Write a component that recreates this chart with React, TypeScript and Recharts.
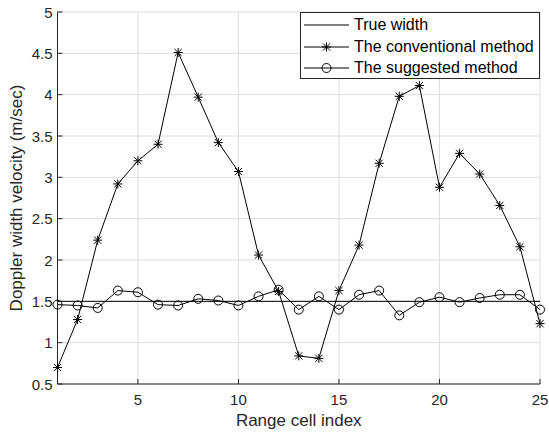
import React from 'react';
import { LineChart, Line, XAxis, YAxis, CartesianGrid } from 'recharts';

const cellIndex = [1,2,3,4,5,6,7,8,9,10,11,12,13,14,15,16,17,18,19,20,21,22,23,24,25];
const trueWidth = [1.5,1.5,1.5,1.5,1.5,1.5,1.5,1.5,1.5,1.5,1.5,1.5,1.5,1.5,1.5,1.5,1.5,1.5,1.5,1.5,1.5,1.5,1.5,1.5,1.5];
const conventional = [0.7,1.28,2.24,2.92,3.2,3.4,4.51,3.97,3.42,3.07,2.06,1.62,0.84,0.81,1.63,2.18,3.17,3.98,4.11,2.88,3.29,3.04,2.66,2.16,1.23];
const suggested = [1.46,1.45,1.42,1.63,1.61,1.46,1.45,1.53,1.51,1.45,1.56,1.64,1.4,1.56,1.4,1.58,1.63,1.33,1.49,1.55,1.49,1.54,1.58,1.58,1.4];
const xTicks = [5,10,15,20,25];
const yTicks = [0.5,1,1.5,2,2.5,3,3.5,4,4.5,5];
const seriesNames = ['True width','The conventional method','The suggested method'];

const data = cellIndex.map((x, i) => ({ x, t: trueWidth[i], c: conventional[i], s: suggested[i] }));

const AX = '#262626';
const FONT = '"Liberation Sans", Arial, sans-serif';

const StarDot = (props: any) => {
  const { cx, cy } = props;
  if (cx == null || cy == null) return null;
  const r = 4.5;
  const d = r * 0.8;
  return (
    <g stroke="#000" strokeWidth={1}>
      <line x1={cx - r} y1={cy} x2={cx + r} y2={cy} />
      <line x1={cx} y1={cy - r} x2={cx} y2={cy + r} />
      <line x1={cx - d} y1={cy - d} x2={cx + d} y2={cy + d} />
      <line x1={cx - d} y1={cy + d} x2={cx + d} y2={cy - d} />
    </g>
  );
};

const CircleDot = (props: any) => {
  const { cx, cy } = props;
  if (cx == null || cy == null) return null;
  return <circle cx={cx} cy={cy} r={4.5} fill="none" stroke="#000" strokeWidth={1} />;
};

const XTick = (props: any) => {
  const { x, y, payload } = props;
  return (
    <g>
      <line x1={x} y1={y} x2={x} y2={y - 5} stroke={AX} />
      <text x={x} y={y + 21} textAnchor="middle" fontSize={15} fill={AX} fontFamily={FONT}>{payload.value}</text>
    </g>
  );
};
const XTopTick = (props: any) => {
  const { x, y } = props;
  return <line x1={x} y1={y} x2={x} y2={y + 5} stroke={AX} />;
};
const YTick = (props: any) => {
  const { x, y, payload } = props;
  return (
    <g>
      <line x1={x} y1={y} x2={x + 5} y2={y} stroke={AX} />
      <text x={x - 5} y={y + 5.5} textAnchor="end" fontSize={15} fill={AX} fontFamily={FONT}>{payload.value}</text>
    </g>
  );
};
const YRightTick = (props: any) => {
  const { x, y } = props;
  return <line x1={x} y1={y} x2={x - 5} y2={y} stroke={AX} />;
};

const LegendBox = () => (
  <div style={{ position: 'absolute', left: 300, top: 12, border: '1px solid #262626', background: '#fff', width: 240, height: 67, boxSizing: 'border-box', fontFamily: FONT, fontSize: 16, color: '#000' }}>
    {seriesNames.map((n, i) => (
      <div key={n} style={{ position: 'absolute', left: 0, top: 2 + i * 21.5, height: 20, display: 'flex', alignItems: 'center' }}>
        <svg width={53} height={20} style={{ display: 'block' }}>
          <line x1={3} y1={10} x2={48} y2={10} stroke="#000" strokeWidth={1} />
          {i === 1 ? <StarDot cx={25.5} cy={10} /> : null}
          {i === 2 ? <CircleDot cx={25.5} cy={10} /> : null}
        </svg>
        <span style={{ whiteSpace: 'nowrap' }}>{n}</span>
      </div>
    ))}
  </div>
);

export default function App() {
  return (
    <div style={{ position: 'absolute', left: 0, top: 0, width: 549, height: 432, background: '#fff' }}>
      <LineChart width={549} height={432} data={data} margin={{ top: 12, right: 9, bottom: 0, left: 0 }}>
        <CartesianGrid stroke="#dcdcdc" strokeWidth={1} horizontalValues={yTicks} verticalValues={xTicks} />
        <XAxis dataKey="x" type="number" domain={[1, 25]} ticks={xTicks} height={48} axisLine={{ stroke: AX }} tickLine={false} tickSize={0} tickMargin={0} tick={<XTick />} interval={0}
          label={{ value: 'Range cell index', position: 'insideBottom', offset: 6, fontSize: 17, fill: AX, fontFamily: FONT }} />
        <XAxis xAxisId="top" orientation="top" dataKey="x" type="number" domain={[1, 25]} ticks={xTicks} height={0} axisLine={{ stroke: AX }} tickLine={false} tickSize={0} tickMargin={0} tick={<XTopTick />} interval={0} />
        <YAxis type="number" domain={[0.5, 5]} ticks={yTicks} width={57.5} axisLine={{ stroke: AX }} tickLine={false} tickSize={0} tickMargin={0} tick={<YTick />} interval={0}
          label={{ value: 'Doppler width velocity (m/sec)', angle: -90, position: 'insideLeft', offset: 16, style: { textAnchor: 'middle', fontSize: 17, fill: AX, fontFamily: FONT } }} />
        <YAxis yAxisId="right" orientation="right" type="number" domain={[0.5, 5]} ticks={yTicks} width={0} axisLine={{ stroke: AX }} tickLine={false} tickSize={0} tickMargin={0} tick={<YRightTick />} interval={0} />
        <Line dataKey="t" stroke="#000" strokeWidth={1} dot={false} isAnimationActive={false} />
        <Line dataKey="c" stroke="#000" strokeWidth={1} dot={<StarDot />} isAnimationActive={false} />
        <Line dataKey="s" stroke="#000" strokeWidth={1} dot={<CircleDot />} isAnimationActive={false} />
      </LineChart>
      <LegendBox />
    </div>
  );
}
